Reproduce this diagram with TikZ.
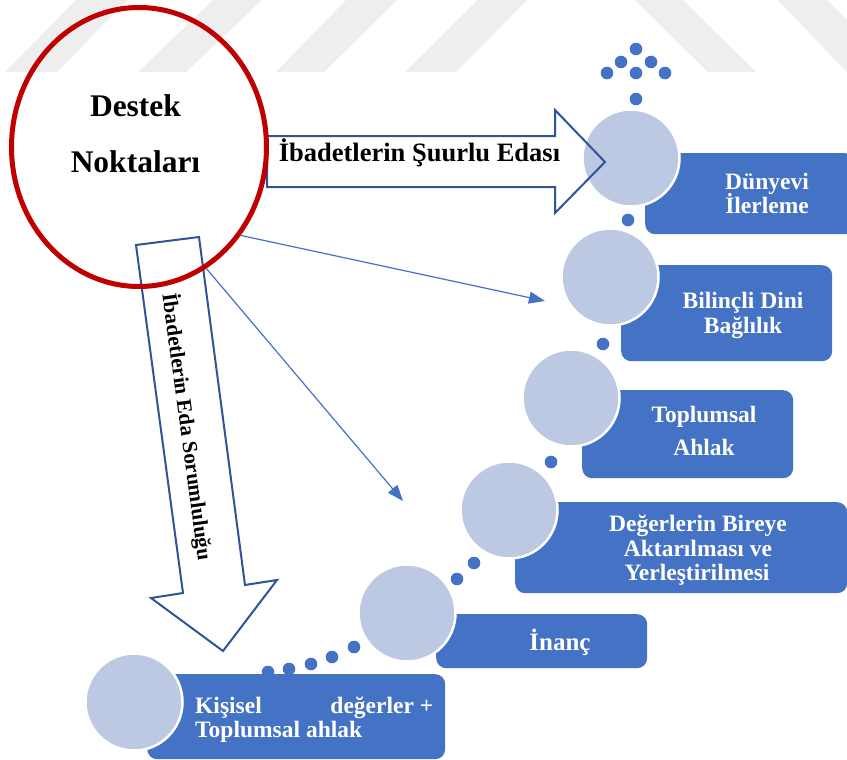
\documentclass[tikz,border=0pt]{standalone}
\usepackage{fontspec}
\setmainfont{Liberation Serif}
\usetikzlibrary{shapes.geometric,arrows.meta}
\definecolor{boxblue}{HTML}{4472C4}
\definecolor{circfill}{HTML}{BDC8E3}
\definecolor{arrowblue}{HTML}{2F5597}
\definecolor{darkred}{HTML}{C00000}
\definecolor{stripegray}{HTML}{EEEEEE}
\begin{document}
\begin{tikzpicture}[x=1pt,y=-1pt,
  stepbox/.style={fill=boxblue, rounded corners=10pt, inner sep=0pt, anchor=north west},
  stepcirc/.style={circle, fill=circfill, draw=white, line width=2.5pt, minimum size=97pt, inner sep=0pt},
  smalldot/.style={circle, fill=boxblue, minimum size=12.6pt, inner sep=0pt},
  boxtext/.style={text=white, font=\fontsize{23.5}{24}\selectfont\bfseries, anchor=base, inner sep=0pt},
  blockarrow/.style={draw=arrowblue, line width=2pt, line join=miter},
  linkarrow/.style={draw=boxblue, line width=1.2pt, -{Triangle[length=16pt,width=12pt]}},
]
\useasboundingbox (0,0) rectangle (847,760);
\fill[white] (0,0) rectangle (847,760);
% watermark stripes
\fill[stripegray] (5,72) -- (57,72) -- (127,0) -- (76,0) -- cycle;
\fill[stripegray] (138,72) -- (186,72) -- (262,0) -- (213,0) -- cycle;
\fill[stripegray] (276,72) -- (324,72) -- (397,0) -- (346,0) -- cycle;
\fill[stripegray] (405,72) -- (456,72) -- (527,0) -- (478,0) -- cycle;
\fill[stripegray] (635,0) -- (683,0) -- (756,72) -- (708,72) -- cycle;
\fill[stripegray] (778,0) -- (827,0) -- (899,72) -- (847,72) -- cycle;

% dots
\foreach \x/\y [count=\i] in {636/49,621/62,651/62,607/73,636/73,665/73,636/99,
  628/220,603/344,551/462,474/563,457/579,354/647,332/657,311/664,289/669,268/672}
  \node[smalldot] (d\i) at (\x,\y) {};

% boxes
\node[stepbox, minimum width=210pt, minimum height=81pt] (b1) at (645,153) {};
\node[stepbox, minimum width=211pt, minimum height=96pt] (b2) at (621,265) {};
\node[stepbox, minimum width=211pt, minimum height=88pt] (b3) at (582,390) {};
\node[stepbox, minimum width=332pt, minimum height=91pt] (b4) at (515,502) {};
\node[stepbox, minimum width=211pt, minimum height=54pt] (b5) at (436,614) {};
\node[stepbox, minimum width=298pt, minimum height=85pt] (b6) at (147,674) {};

% circles
\node[stepcirc] (c1) at (631,158) {};
\node[stepcirc] (c2) at (610,277) {};
\node[stepcirc] (c3) at (571,398) {};
\node[stepcirc] (c4) at (509,510) {};
\node[stepcirc] (c5) at (407,613) {};
\node[stepcirc] (c6) at (134,702) {};

% box texts
\node[boxtext] (t1a) at (767,189) {Dünyevi};
\node[boxtext] (t1b) at (767,213) {İlerleme};
\node[boxtext] (t2a) at (743,308) {Bilinçli Dini};
\node[boxtext] (t2b) at (743,333) {Bağlılık};
\node[boxtext] (t3a) at (704,422) {Toplumsal};
\node[boxtext] (t3b) at (704,455) {Ahlak};
\node[boxtext] (t4a) at (698,531) {Değerlerin Bireye};
\node[boxtext] (t4b) at (698,556) {Aktarılması ve};
\node[boxtext] (t4c) at (697,580) {Yerleştirilmesi};
\node[boxtext, font=\fontsize{25}{26}\selectfont\bfseries] (t5a) at (560,650) {İnanç};
\node[boxtext, anchor=base west] (t6a) at (195,713) {\makebox[238pt][l]{Kişisel\hfill değerler +}};
\node[boxtext, anchor=base west] (t6b) at (195,737) {Toplumsal ahlak};

% block arrows
\draw[blockarrow] (267,136) -- (555,136) -- (555,110) -- (605,162) -- (555,213) -- (555,187) -- (267,187) -- cycle;
\node[font=\fontsize{26.5}{27}\selectfont\bfseries, anchor=base, inner sep=0pt] (rtext) at (419.5,161) {İbadetlerin Şuurlu Edası};
\draw[blockarrow] (136,245) -- (199,237) -- (245,585) -- (277,580) -- (223,651) -- (151,598) -- (183,593) -- cycle;
\node[font=\fontsize{21.3}{22}\selectfont\bfseries, rotate=-82.3, inner sep=0pt] (dtext) at (187,427) {İbadetlerin Eda Sorumluluğu};

% main ellipse
\node[ellipse, draw=darkred, line width=5pt, minimum width=255pt, minimum height=279pt, inner sep=0pt] (ell) at (139,147) {};
\node[font=\fontsize{31.5}{32}\selectfont\bfseries, anchor=base, inner sep=0pt] (m1) at (135.5,117) {Destek};
\node[font=\fontsize{31.5}{32}\selectfont\bfseries, anchor=base, inner sep=0pt] (m2) at (135.5,172) {Noktaları};

% thin connectors
\coordinate (tip1) at (545,301);
\coordinate (tip2) at (403,501);
\draw[linkarrow] (ell.-41) -- (tip1);
\draw[linkarrow] (ell.-61) -- (tip2);
\end{tikzpicture}
\end{document}
